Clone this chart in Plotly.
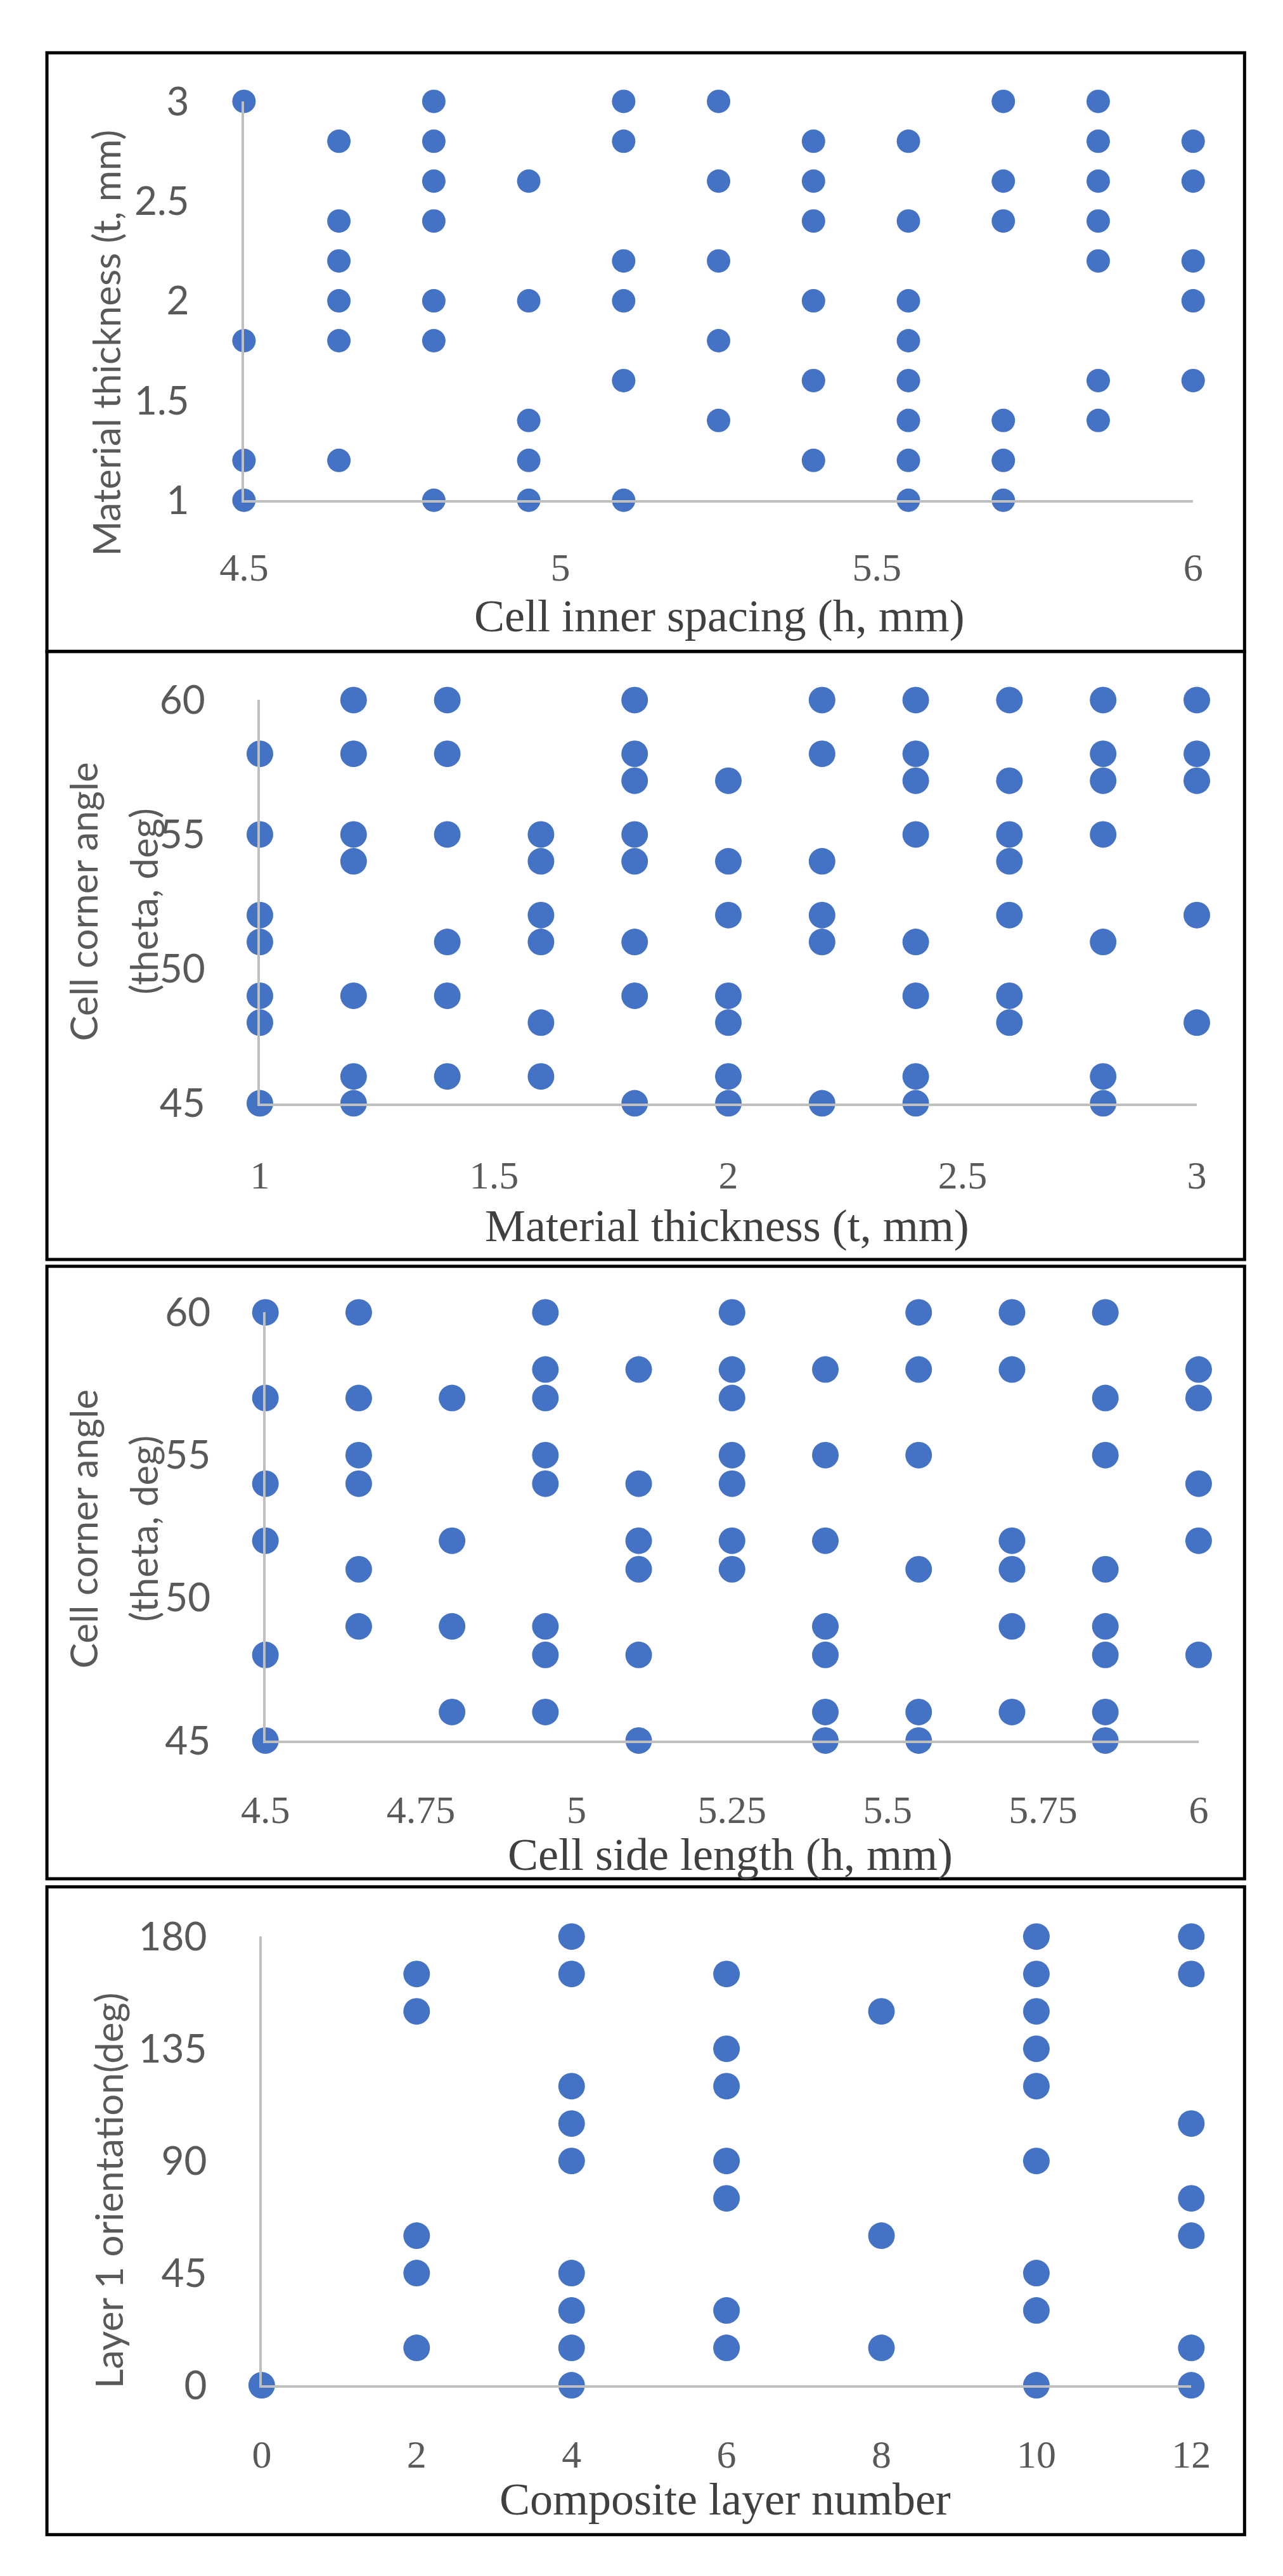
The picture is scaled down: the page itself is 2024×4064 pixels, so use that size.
import plotly.graph_objects as go

# ---- data ----
# panel 1: cell inner spacing h (mm) vs material thickness t (mm)
spacing_h = [4.5, 4.65, 4.8, 4.95, 5.1, 5.25, 5.4, 5.55, 5.7, 5.85, 6.0]
thickness_at_h = [
    [3.0, 1.8, 1.2, 1.0],
    [2.8, 2.4, 2.2, 2.0, 1.8, 1.2],
    [3.0, 2.8, 2.6, 2.4, 2.0, 1.8, 1.0],
    [2.6, 2.0, 1.4, 1.2, 1.0],
    [3.0, 2.8, 2.2, 2.0, 1.6, 1.0],
    [3.0, 2.6, 2.2, 1.8, 1.4],
    [2.8, 2.6, 2.4, 2.0, 1.6, 1.2],
    [2.8, 2.4, 2.0, 1.8, 1.6, 1.4, 1.2, 1.0],
    [3.0, 2.6, 2.4, 1.4, 1.2, 1.0],
    [3.0, 2.8, 2.6, 2.4, 2.2, 1.6, 1.4],
    [2.8, 2.6, 2.2, 2.0, 1.6],
]

# panel 2: material thickness t (mm) vs cell corner angle (deg)
thickness_t = [1.0, 1.2, 1.4, 1.6, 1.8, 2.0, 2.2, 2.4, 2.6, 2.8, 3.0]
angle_at_t = [
    [58, 55, 52, 51, 49, 48, 45],
    [60, 58, 55, 54, 49, 46, 45],
    [60, 58, 55, 51, 49, 46],
    [55, 54, 52, 51, 48, 46],
    [60, 58, 57, 55, 54, 51, 49, 45],
    [57, 54, 52, 49, 48, 46, 45],
    [60, 58, 54, 52, 51, 45],
    [60, 58, 57, 55, 51, 49, 46, 45],
    [60, 57, 55, 54, 52, 49, 48],
    [60, 58, 57, 55, 51, 46, 45],
    [60, 58, 57, 52, 48],
]

# panel 3: cell side length h (mm) vs cell corner angle (deg)
side_h = [4.5, 4.65, 4.8, 4.95, 5.1, 5.25, 5.4, 5.55, 5.7, 5.85, 6.0]
angle_at_side = [
    [60, 57, 54, 52, 48, 45],
    [60, 57, 55, 54, 51, 49],
    [57, 52, 49, 46],
    [60, 58, 57, 55, 54, 49, 48, 46],
    [58, 54, 52, 51, 48, 45],
    [60, 58, 57, 55, 54, 52, 51],
    [58, 55, 52, 49, 48, 46, 45],
    [60, 58, 55, 51, 46, 45],
    [60, 58, 52, 51, 49, 46],
    [60, 57, 55, 51, 49, 48, 46, 45],
    [58, 57, 54, 52, 48],
]

# panel 4: composite layer number vs layer 1 orientation (deg)
layer_n = [0, 2, 4, 6, 8, 10, 12]
orient_at_n = [
    [0],
    [165, 150, 60, 45, 15],
    [180, 165, 120, 105, 90, 45, 30, 15, 0],
    [165, 135, 120, 90, 75, 30, 15],
    [150, 60, 15],
    [180, 165, 150, 135, 120, 90, 45, 30, 0],
    [180, 165, 105, 75, 60, 15, 0],
]

p1_xticks = [4.5, 5, 5.5, 6]
p1_yticks = [1, 1.5, 2, 2.5, 3]
p2_xticks = [1, 1.5, 2, 2.5, 3]
p2_yticks = [45, 50, 55, 60]
p3_xticks = [4.5, 4.75, 5, 5.25, 5.5, 5.75, 6]
p3_yticks = [45, 50, 55, 60]
p4_xticks = [0, 2, 4, 6, 8, 10, 12]
p4_yticks = [0, 45, 90, 135, 180]

# ---- layout (pixels of the 2024 x 4064 page) ----
W, H = 2024, 4064
BLUE = "#4472C4"
AXIS_GREY = "#BFBFBF"
TICK_GREY = "#595959"
SANS = "Lato, Liberation Sans, sans-serif"
SERIF = "Liberation Serif, DejaVu Serif, serif"


def fx(px):
    return px / W


def fy(py):
    return 1 - py / H


def flatten(cols, rows):
    xs, ys = [], []
    for c, r in zip(cols, rows):
        for v in r:
            xs.append(c)
            ys.append(v)
    return xs, ys


panels = [
    dict(cols=spacing_h, rows=thickness_at_h, xt=p1_xticks, yt=p1_yticks,
         xr=[4.5, 6], yr=[1, 3], box=(350, 1901, 115, 756), size=37,
         frame=(37, 999), xstand=48),
    dict(cols=thickness_t, rows=angle_at_t, xt=p2_xticks, yt=p2_yticks,
         xr=[1, 3], yr=[45, 60], box=(376, 1907, 1077, 1725), size=42,
         frame=(999, 1976), xstand=56),
    dict(cols=side_h, rows=angle_at_side, xt=p3_xticks, yt=p3_yticks,
         xr=[4.5, 6], yr=[45, 60], box=(385, 1910, 2061, 2749), size=42,
         frame=(1987, 2971), xstand=52),
    dict(cols=layer_n, rows=orient_at_n, xt=p4_xticks, yt=p4_yticks,
         xr=[0, 12], yr=[0, 180], box=(379, 1898, 3064, 3785), size=42,
         frame=(2984, 4025), xstand=52),
]

fig = go.Figure()
layout_axes = {}
shapes = []

for i, p in enumerate(panels, start=1):
    sfx = "" if i == 1 else str(i)
    xs, ys = flatten(p["cols"], p["rows"])
    fig.add_trace(go.Scatter(
        x=xs, y=ys, mode="markers",
        marker=dict(color=BLUE, size=p["size"], line=dict(width=0)),
        xaxis="x" + sfx, yaxis="y" + sfx,
        cliponaxis=False, showlegend=False,
    ))
    x0, x1, ytop, ybot = p["box"]
    layout_axes["xaxis" + sfx] = dict(
        domain=[fx(x0), fx(x1)], range=p["xr"], anchor="y" + sfx,
        tickvals=p["xt"], ticks="", showgrid=False, zeroline=False,
        showline=True, linecolor=AXIS_GREY, linewidth=4,
        tickfont=dict(family=SERIF, size=62, color=TICK_GREY),
        ticklabelstandoff=p["xstand"],
    )
    layout_axes["yaxis" + sfx] = dict(
        domain=[fy(ybot), fy(ytop)], range=p["yr"], anchor="x" + sfx,
        tickvals=p["yt"], ticks="", showgrid=False, zeroline=False,
        showline=True, linecolor=AXIS_GREY, linewidth=4,
        tickfont=dict(family=SANS, size=62, color=TICK_GREY),
        ticklabelstandoff=70,
    )
    top, bottom = p["frame"]
    shapes.append(dict(type="rect", xref="paper", yref="paper",
                       x0=fx(28), x1=fx(1985), y0=fy(bottom), y1=fy(top),
                       line=dict(color="black", width=5)))

# axis titles as annotations at measured spots
x_titles = [
    ("Cell inner spacing (h, mm)", 1127, 942),
    ("Material thickness (t, mm)", 1139, 1922),
    ("Cell side length (h, mm)", 1145, 2932),
    ("Composite layer number", 1136, 3968),
]
y_titles = [
    ("Material thickness (t, mm)", 124, 503),
    ("Cell corner angle", 87, 1401),
    ("(theta, deg)", 186, 1401),
    ("Cell corner angle", 87, 2409),
    ("(theta, deg)", 186, 2409),
    ("Layer 1 orientation(deg)", 128, 3472),
]

annotations = []
for text, px, py in x_titles:
    annotations.append(dict(text=text, x=fx(px), y=fy(py), xref="paper",
                            yref="paper", showarrow=False, xanchor="center",
                            yanchor="middle",
                            font=dict(family=SERIF, size=72, color="#404040")))
for text, px, py in y_titles:
    annotations.append(dict(text=text, x=fx(px), y=fy(py), xref="paper",
                            yref="paper", showarrow=False, xanchor="center",
                            yanchor="middle", textangle=-90,
                            font=dict(family=SANS, size=60, color=TICK_GREY)))

fig.update_layout(
    width=W, height=H,
    margin=dict(l=0, r=0, t=0, b=0),
    paper_bgcolor="white", plot_bgcolor="white",
    shapes=shapes, annotations=annotations,
    **layout_axes,
)

fig.write_html("out.html")
